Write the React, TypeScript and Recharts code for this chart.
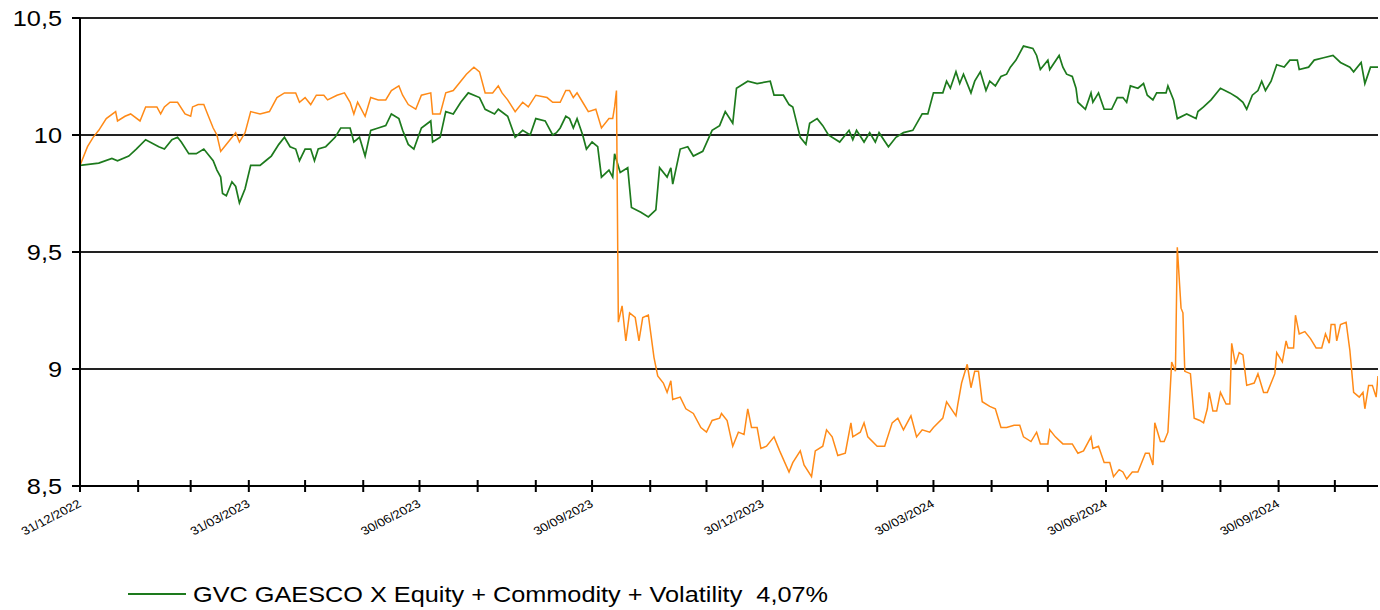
import React from 'react';
import { LineChart, Line, XAxis, YAxis, CartesianGrid, Legend } from 'recharts';

// x values are days counted from 31/12/2022
const greenDays = [
  0, 10, 17, 20, 26, 30, 35, 42, 45, 49,
  52, 54, 58, 62, 66, 71, 73, 75, 76, 78,
  81, 83, 85, 88, 91, 96, 99, 102, 106, 109,
  112, 115, 117, 120, 123, 125, 127, 131, 136, 139,
  144, 146, 149, 152, 155, 159, 163, 166, 170, 172,
  175, 178, 182, 187, 188, 192, 195, 199, 203, 207,
  213, 216, 221, 223, 228, 232, 236, 240, 243, 248,
  252, 254, 256, 259, 261, 263, 265, 268, 270, 273,
  276, 278, 282, 284, 285, 288, 292, 294, 299, 303,
  307, 309, 313, 315, 316, 320, 324, 327, 332, 337,
  341, 344, 348, 350, 356, 361, 368, 370, 375, 378,
  380, 384, 387, 389, 393, 396, 399, 405, 410, 412,
  414, 418, 421, 424, 426, 431, 435, 439, 444, 449,
  452, 455, 460, 462, 464, 467, 469, 471, 475, 477,
  480, 483, 485, 488, 491, 494, 496, 499, 503, 508,
  510, 512, 516, 517, 522, 524, 526, 529, 531, 532,
  536, 539, 540, 543, 546, 550, 553, 556, 558, 560,
  564, 567, 569, 572, 574, 579, 580, 583, 585, 590,
  595, 596, 599, 603, 608, 613, 617, 620, 622, 625,
  628, 630, 632, 635, 638, 642, 645, 649, 650, 655,
  658, 663, 668, 672, 677, 679, 683, 685, 688, 692,
];
const greenValues = [
  9.87, 9.88, 9.9, 9.89, 9.91, 9.94, 9.98, 9.95, 9.94, 9.98,
  9.99, 9.97, 9.92, 9.92, 9.94, 9.89, 9.85, 9.82, 9.75, 9.74,
  9.8, 9.78, 9.71, 9.77, 9.87, 9.87, 9.89, 9.91, 9.96, 9.99,
  9.95, 9.94, 9.89, 9.94, 9.94, 9.89, 9.94, 9.95, 9.99, 10.03,
  10.03, 9.97, 9.99, 9.91, 10.02, 10.03, 10.04, 10.09, 10.07, 10.02,
  9.96, 9.94, 10.03, 10.06, 9.97, 9.99, 10.1, 10.09, 10.14, 10.18,
  10.16, 10.11, 10.09, 10.11, 10.08, 9.99, 10.02, 10.0, 10.07, 10.06,
  10.0, 10.01, 10.03, 10.08, 10.07, 10.03, 10.07, 10.0, 9.94, 9.97,
  9.95, 9.82, 9.85, 9.82, 9.92, 9.84, 9.86, 9.69, 9.67, 9.65,
  9.68, 9.86, 9.82, 9.86, 9.79, 9.94, 9.95, 9.91, 9.93, 10.02,
  10.04, 10.1, 10.05, 10.2, 10.23, 10.22, 10.23, 10.17, 10.17, 10.13,
  10.12, 9.99, 9.96, 10.05, 10.07, 10.04, 10.0, 9.97, 10.02, 9.98,
  10.02, 9.97, 10.01, 9.97, 10.01, 9.95, 9.99, 10.01, 10.02, 10.09,
  10.09, 10.18, 10.18, 10.23, 10.2, 10.27, 10.22, 10.26, 10.18, 10.23,
  10.27, 10.19, 10.23, 10.21, 10.25, 10.26, 10.29, 10.32, 10.38, 10.37,
  10.34, 10.28, 10.32, 10.28, 10.34, 10.29, 10.26, 10.25, 10.2, 10.14,
  10.11, 10.18, 10.14, 10.18, 10.11, 10.11, 10.16, 10.16, 10.14, 10.21,
  10.2, 10.22, 10.17, 10.15, 10.18, 10.18, 10.21, 10.15, 10.07, 10.09,
  10.07, 10.1, 10.12, 10.15, 10.2, 10.18, 10.16, 10.14, 10.11, 10.17,
  10.19, 10.23, 10.19, 10.23, 10.3, 10.29, 10.32, 10.32, 10.28, 10.29,
  10.32, 10.33, 10.34, 10.31, 10.29, 10.27, 10.31, 10.22, 10.29, 10.29,
];

const orangeDays = [
  0, 4, 7, 10, 14, 19, 20, 24, 27, 32,
  35, 41, 43, 45, 48, 52, 56, 59, 60, 63,
  66, 68, 71, 73, 75, 77, 80, 83, 85, 88,
  91, 96, 101, 105, 109, 115, 117, 120, 123, 126,
  130, 132, 137, 141, 144, 146, 148, 152, 155, 159,
  163, 166, 170, 172, 175, 179, 182, 187, 188, 192,
  195, 199, 203, 206, 210, 213, 216, 220, 223, 225,
  228, 232, 236, 239, 243, 249, 252, 256, 259, 261,
  263, 265, 268, 271, 275, 278, 282, 284, 285, 286,
  287, 289, 291, 293, 296, 298, 300, 303, 306, 308,
  311, 313, 315, 316, 320, 323, 327, 331, 334, 337,
  341, 342, 345, 348, 351, 354, 356, 358, 361, 363,
  366, 370, 373, 378, 380, 384, 386, 390, 392, 396,
  398, 401, 404, 408, 411, 412, 416, 418, 420, 425,
  429, 433, 436, 439, 443, 446, 449, 453, 455, 460,
  462, 467, 468, 470, 473, 475, 477, 479, 481, 485,
  488, 491, 494, 498, 501, 503, 507, 510, 512, 516,
  517, 520, 524, 529, 532, 535, 539, 540, 543, 546,
  549, 551, 554, 556, 558, 561, 564, 568, 570, 572,
  573, 576, 578, 580, 582, 584, 585, 587, 588, 589,
  592, 594, 597, 599, 601, 602, 604, 606, 608, 611,
  613, 614, 616, 618, 620, 622, 626, 628, 631, 633,
  637, 638, 641, 643, 644, 647, 648, 650, 653, 656,
  659, 662, 664, 666, 667, 669, 670, 672, 675, 677,
  679, 682, 684, 685, 687, 689, 691, 692,
];
const orangeValues = [
  9.87, 9.95, 9.99, 10.02, 10.07, 10.1, 10.06, 10.08, 10.09, 10.06,
  10.12, 10.12, 10.09, 10.12, 10.14, 10.14, 10.09, 10.08, 10.12, 10.13,
  10.13, 10.09, 10.03, 10.0, 9.93, 9.95, 9.98, 10.01, 9.97, 10.01,
  10.1, 10.09, 10.1, 10.16, 10.18, 10.18, 10.14, 10.16, 10.13, 10.17,
  10.17, 10.15, 10.17, 10.18, 10.14, 10.09, 10.14, 10.08, 10.16, 10.15,
  10.15, 10.19, 10.21, 10.17, 10.13, 10.11, 10.17, 10.18, 10.09, 10.09,
  10.18, 10.19, 10.23, 10.26, 10.29, 10.27, 10.18, 10.18, 10.21, 10.18,
  10.15, 10.1, 10.14, 10.12, 10.17, 10.16, 10.14, 10.14, 10.19, 10.19,
  10.16, 10.18, 10.14, 10.1, 10.11, 10.03, 10.07, 10.07, 10.12, 10.19,
  9.2, 9.27, 9.12, 9.24, 9.22, 9.12, 9.22, 9.23, 9.05, 8.97,
  8.94, 8.9, 8.95, 8.87, 8.88, 8.83, 8.81, 8.75, 8.73, 8.78,
  8.79, 8.81, 8.78, 8.67, 8.73, 8.72, 8.83, 8.75, 8.75, 8.66,
  8.67, 8.71, 8.65, 8.56, 8.6, 8.65, 8.59, 8.54, 8.65, 8.67,
  8.74, 8.71, 8.63, 8.64, 8.77, 8.71, 8.73, 8.77, 8.71, 8.67,
  8.67, 8.77, 8.79, 8.74, 8.8, 8.71, 8.74, 8.73, 8.75, 8.79,
  8.86, 8.8, 8.85, 8.94, 9.02, 8.92, 8.99, 8.99, 8.86, 8.84,
  8.83, 8.75, 8.75, 8.76, 8.76, 8.71, 8.69, 8.73, 8.68, 8.68,
  8.74, 8.71, 8.68, 8.68, 8.64, 8.65, 8.71, 8.66, 8.67, 8.6,
  8.6, 8.54, 8.57, 8.56, 8.53, 8.56, 8.56, 8.64, 8.64, 8.59,
  8.77, 8.69, 8.69, 8.73, 9.03, 8.99, 9.52, 9.26, 9.24, 8.99,
  8.98, 8.79, 8.78, 8.77, 8.83, 8.9, 8.82, 8.82, 8.9, 8.85,
  8.85, 9.11, 9.02, 9.07, 9.06, 8.93, 8.94, 8.98, 8.9, 8.9,
  8.98, 9.07, 9.03, 9.12, 9.09, 9.09, 9.23, 9.15, 9.16, 9.13,
  9.09, 9.09, 9.15, 9.11, 9.19, 9.19, 9.12, 9.19, 9.2, 9.08,
  8.9, 8.88, 8.9, 8.83, 8.93, 8.93, 8.88, 8.97,
];

const tickDates = [
  '31/12/2022', '31/01/2023', '28/02/2023', '31/03/2023', '30/04/2023', '31/05/2023',
  '30/06/2023', '31/07/2023', '31/08/2023', '30/09/2023', '31/10/2023', '30/11/2023',
  '30/12/2023', '30/01/2024', '29/02/2024', '30/03/2024', '30/04/2024', '30/05/2024',
  '30/06/2024', '30/07/2024', '30/08/2024', '30/09/2024', '30/10/2024',
];
const labelDates = [
  '31/12/2022', '31/03/2023', '30/06/2023', '30/09/2023',
  '30/12/2023', '30/03/2024', '30/06/2024', '30/09/2024',
];
const yTicks = [8.5, 9, 9.5, 10, 10.5];
const lastDay = 692;

const legendName = 'GVC GAESCO X Equity + Commodity + Volatility';
const legendReturn = '4,07%';

const GREEN = '#1d7a1d';
const ORANGE = '#ff8a17';
const FONT = "'Liberation Sans', Arial, sans-serif";

const toDay = (s: string) => {
  const [d, m, y] = s.split('/').map(Number);
  return Math.round((Date.UTC(y, m - 1, d) - Date.UTC(2022, 11, 31)) / 86400000);
};

const xTicks = tickDates.map(toDay);
const labelByDay: Record<number, string> = {};
labelDates.forEach((s) => { labelByDay[toDay(s)] = s; });

const greenData = greenDays.map((day, i) => ({ day, value: greenValues[i] }));
const orangeData = orangeDays.map((day, i) => ({ day, value: orangeValues[i] }));

const DateTick = (props: any) => {
  const { x, y, payload } = props;
  const label = labelByDay[payload.value];
  return (
    <g>
      <line x1={x} x2={x} y1={y - 6} y2={y + 6} stroke="#000" strokeWidth={2} />
      {label && (
        <text
          transform={`translate(${x + 2} ${y + 20}) scale(1.16 1) rotate(-31)`}
          textAnchor="end"
          fontSize={11.5}
          fontFamily={FONT}
          fill="#000"
        >
          {label}
        </text>
      )}
    </g>
  );
};

const ValueTick = (props: any) => {
  const { x, y, payload } = props;
  return (
    <text
      transform={`translate(${x} ${y}) scale(1.15 1)`}
      textAnchor="end"
      dy="0.36em"
      fontSize={22}
      fontFamily={FONT}
      fill="#000"
    >
      {String(payload.value).replace('.', ',')}
    </text>
  );
};

const renderLegend = () => (
  <svg width={1380} height={32}>
    <line x1={128} x2={186} y1={16} y2={16} stroke={GREEN} strokeWidth={2} />
    <text
      x={193}
      y={24}
      fontSize={21.5}
      fontFamily={FONT}
      fill="#000"
      textLength={635}
      lengthAdjust="spacingAndGlyphs"
      style={{ whiteSpace: 'pre' }}
    >
      {`${legendName}  ${legendReturn}`}
    </text>
  </svg>
);

const App: React.FC = () => (
  <div style={{ position: 'absolute', left: 0, top: 0, background: '#fff' }}>
    <LineChart width={1380} height={610} margin={{ top: 18, right: 2, left: 0, bottom: 0 }}>
      <CartesianGrid vertical={false} stroke="#222" strokeWidth={2} />
      <XAxis
        dataKey="day"
        type="number"
        domain={[0, lastDay]}
        ticks={xTicks}
        interval={0}
        height={124}
        tickSize={0}
        tickMargin={0}
        tickLine={false}
        axisLine={{ stroke: '#000', strokeWidth: 2 }}
        tick={<DateTick />}
        allowDataOverflow
      />
      <YAxis
        type="number"
        domain={[8.5, 10.5]}
        ticks={yTicks}
        interval={0}
        width={80}
        tickSize={8}
        tickMargin={10}
        tickLine={{ stroke: '#000', strokeWidth: 2 }}
        axisLine={{ stroke: '#000', strokeWidth: 2 }}
        tick={<ValueTick />}
      />
      <Legend
        layout="horizontal"
        verticalAlign="middle"
        align="center"
        content={renderLegend}
        wrapperStyle={{ top: 578, left: 0, width: 1380, height: 32 }}
      />
      <Line
        data={greenData}
        dataKey="value"
        type="linear"
        stroke={GREEN}
        strokeWidth={1.7}
        dot={false}
        activeDot={false}
        isAnimationActive={false}
      />
      <Line
        data={orangeData}
        dataKey="value"
        type="linear"
        stroke={ORANGE}
        strokeWidth={1.5}
        dot={false}
        activeDot={false}
        isAnimationActive={false}
        legendType="none"
      />
    </LineChart>
  </div>
);

export default App;
